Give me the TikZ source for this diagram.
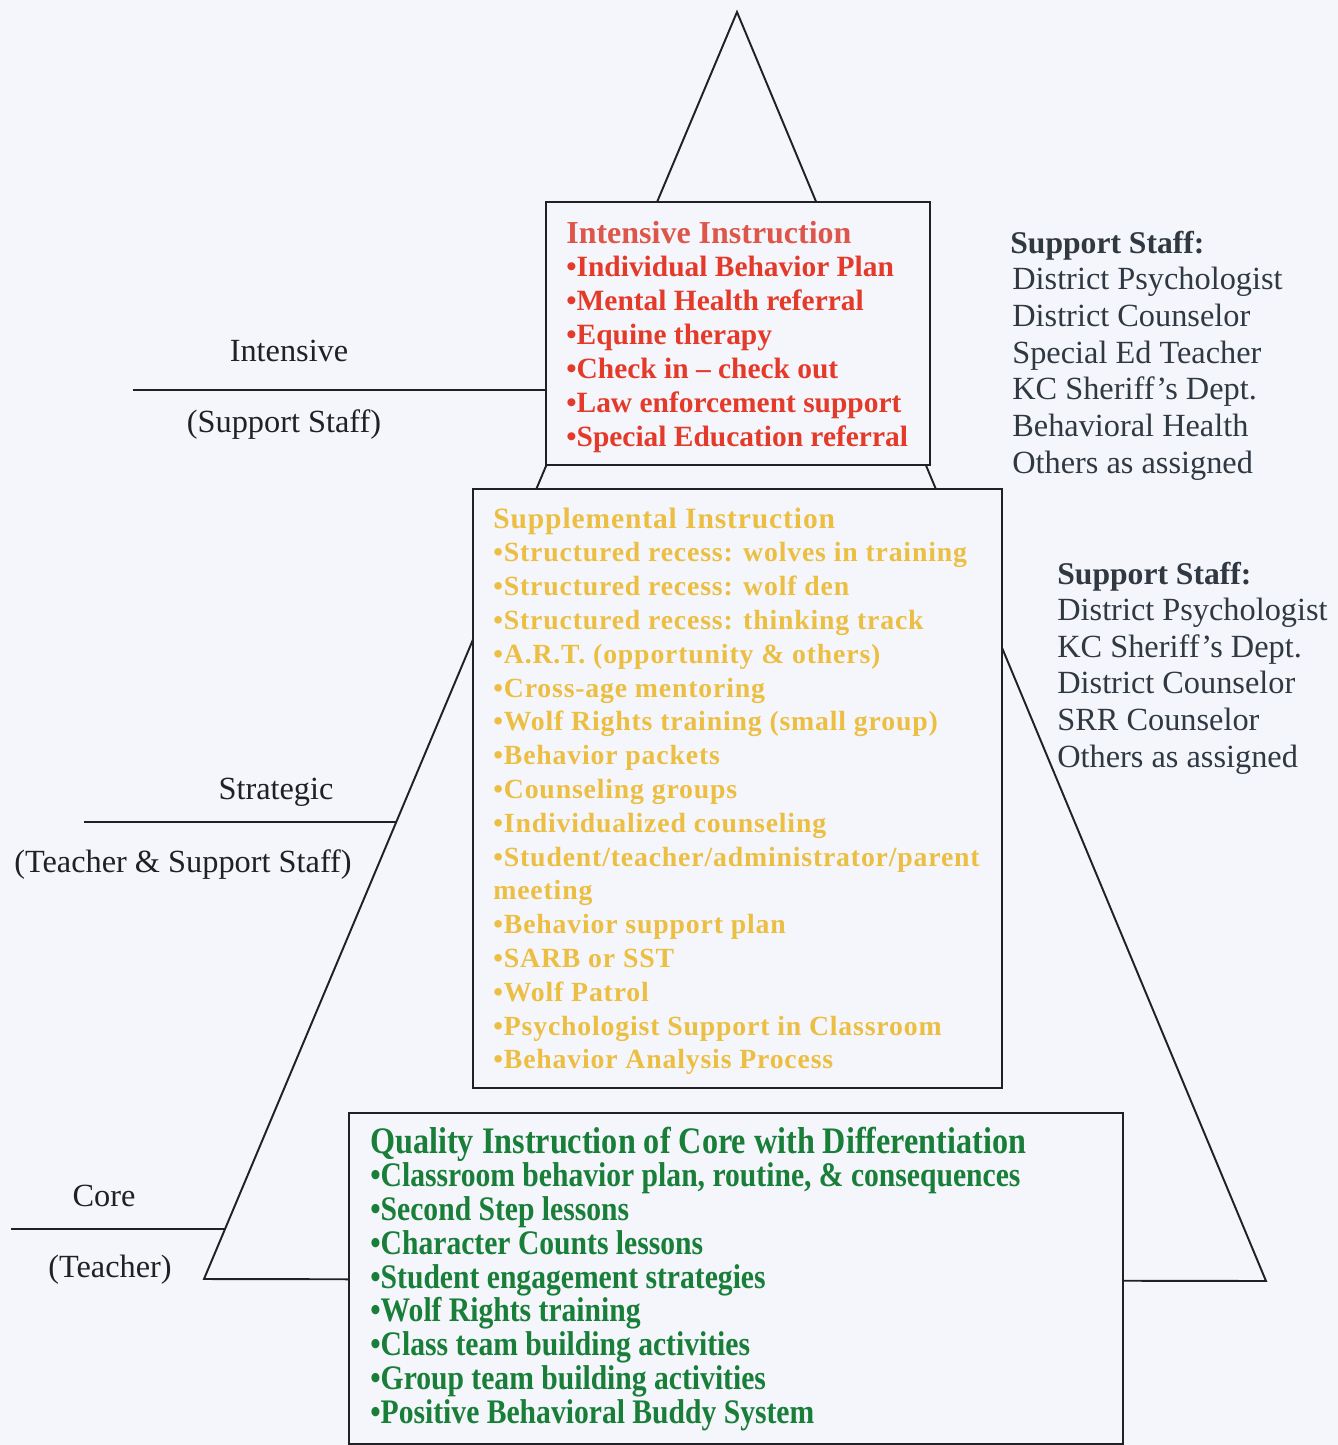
\documentclass[tikz,border=0pt]{standalone}
\usepackage{fontspec}
\setmainfont{Liberation Serif}
\newfontfamily\condserif[FakeStretch=0.86]{Liberation Serif}
\newfontfamily\wideserif[LetterSpace=3]{Liberation Serif}
\usetikzlibrary{calc,positioning}
\definecolor{paper}{RGB}{244,246,252}
\definecolor{ink}{RGB}{32,32,38}
\definecolor{slate}{RGB}{48,56,66}
\definecolor{redhead}{RGB}{222,86,74}
\definecolor{reditem}{RGB}{228,58,42}
\definecolor{gold}{RGB}{236,190,66}
\definecolor{leaf}{RGB}{24,126,56}

\begin{document}
\begin{tikzpicture}[x=0.02cm, y=-0.02cm,
    edge/.style={draw=ink, line width=1.1pt},
    tierbox/.style={draw=ink, line width=1.1pt, fill=paper, inner sep=0pt,
                    anchor=north west},
    level/.style={text=ink, font=\fontsize{18.4}{21}\selectfont},
    inttxt/.style={anchor=base west, inner sep=0pt, text=reditem,
                   font=\fontsize{16.75}{20}\selectfont\bfseries},
    suptxt/.style={anchor=base west, inner sep=0pt, text=gold,
                   font=\fontsize{15.8}{20}\selectfont\wideserif\bfseries},
    coretxt/.style={anchor=base west, inner sep=0pt, text=leaf,
                    font=\fontsize{19.6}{20}\selectfont\condserif\bfseries},
    stafftxt/.style={anchor=base west, inner sep=0pt, text=slate,
                     font=\fontsize{18.4}{21}\selectfont}]
    % page
    \fill[paper] (0,0) rectangle (1338,1445);
    \useasboundingbox (0,0) rectangle (1338,1445);

    % Pyramid outline (boxes sit on top of it)
    \coordinate (apex)  at (737,12);
    \coordinate (baseL) at (204,1279);
    \coordinate (baseR) at (1266,1281);
    \draw[edge] (apex) -- (baseL) -- (baseR) -- cycle;

    % Tier boxes
    \node[tierbox, minimum width=7.68cm, minimum height=5.26cm]
      (intbox) at (545,201) {};
    \node[tierbox, minimum width=10.58cm, minimum height=11.98cm]
      (supbox) at (472,488) {};
    \node[tierbox, minimum width=15.48cm, minimum height=6.62cm]
      (corebox) at (348,1112) {};

    % Level rules on the left
    \coordinate (intL)  at (133,390);
    \coordinate (strL)  at (84,822);
    \coordinate (coreL) at (11,1229);
    \coordinate (strR)  at ($(apex)!0.6398!(baseL)$);
    \coordinate (coreR) at ($(apex)!0.9613!(baseL)$);
    \draw[edge] (intL) -- (intL -| intbox.west);
    \draw[edge] (strL) -- (strL -| strR);
    \draw[edge] (coreL) -- (coreL -| coreR);

    \node[level] (intname)  at (289,351)  {Intensive};
    \node[level] (intwho)   at (284,425)  {(Support Staff)};
    \node[level] (strname)  at (276,792)  {Strategic};
    \node[level] (strwho)   at (183,865)  {(Teacher \& Support Staff)};
    \node[level] (corename) at (104,1196) {Core};
    \node[level] (corewho)  at (110,1270) {(Teacher)};

    % Intensive tier
    \node[inttxt, text=redhead, font=\fontsize{18.2}{20}\selectfont\bfseries]
      (int0) at (566,243) {Intensive Instruction};
    \foreach \txt [count=\i] in {Individual Behavior Plan,
        Mental Health referral, Equine therapy, Check in -- check out,
        Law enforcement support, Special Education referral}
      \node[inttxt] (int\i) at (566,{243+33.9*\i}) {\textbullet\txt};

    % Supplemental tier
    \node[suptxt, font=\fontsize{16.8}{20}\selectfont\wideserif\bfseries]
      (sup0) at (493,528) {Supplemental Instruction};
    \foreach \txt [count=\i] in {\textbullet Structured recess: wolves in training,
        \textbullet Structured recess: wolf den,
        \textbullet Structured recess: thinking track,
        \textbullet A.R.T. (opportunity \& others),
        \textbullet Cross-age mentoring,
        \textbullet Wolf Rights training (small group),
        \textbullet Behavior packets,
        \textbullet Counseling groups,
        \textbullet Individualized counseling,
        \textbullet Student/teacher/administrator/parent,
        meeting,
        \textbullet Behavior support plan,
        \textbullet SARB or SST,
        \textbullet Wolf Patrol,
        \textbullet Psychologist Support in Classroom,
        \textbullet Behavior Analysis Process}
      \node[suptxt] (sup\i) at (493,{528+33.8*\i}) {\txt};

    % Core tier
    \node[coretxt, font=\fontsize{21.3}{22}\selectfont\condserif\bfseries]
      (core0) at (370,1153) {Quality Instruction of Core with Differentiation};
    \foreach \txt [count=\i] in {{Classroom behavior plan, routine, \& consequences},
        Second Step lessons, Character Counts lessons,
        Student engagement strategies, Wolf Rights training,
        Class team building activities, Group team building activities,
        Positive Behavioral Buddy System}
      \node[coretxt] (core\i) at (370,{1153+33.75*\i}) {\textbullet\txt};

    % Support staff lists
    \node[stafftxt, font=\fontsize{18}{21}\selectfont\bfseries]
      (staffA0) at (1010,253) {Support Staff:};
    \foreach \txt [count=\i] in {District Psychologist, District Counselor,
        Special Ed Teacher, KC Sheriff’s Dept., Behavioral Health,
        Others as assigned}
      \node[stafftxt] (staffA\i) at (1012,{253+36.7*\i}) {\txt};

    \node[stafftxt, font=\fontsize{18}{21}\selectfont\bfseries]
      (staffB0) at (1057,584) {Support Staff:};
    \foreach \txt [count=\i] in {District Psychologist, KC Sheriff’s Dept.,
        District Counselor, SRR Counselor, Others as assigned}
      \node[stafftxt] (staffB\i) at (1057,{584+36.6*\i}) {\txt};
\end{tikzpicture}
\end{document}
